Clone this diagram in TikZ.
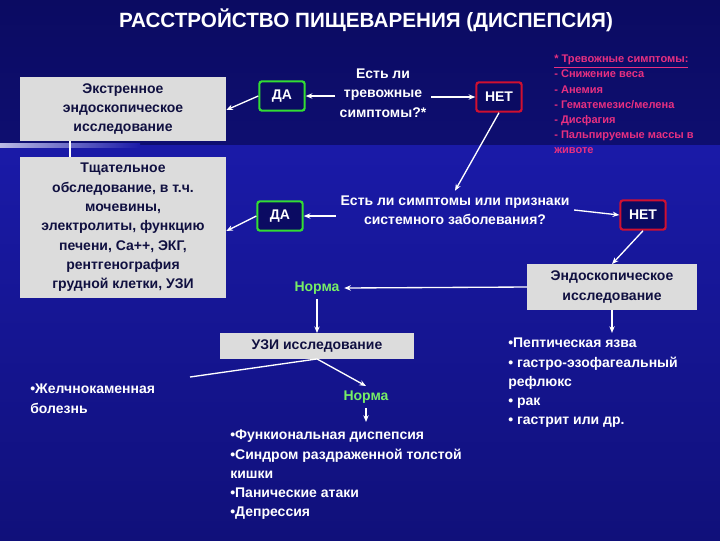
\documentclass[tikz,border=0pt]{standalone}
\usepackage{fontspec}
\setmainfont{Liberation Sans}
\usetikzlibrary{arrows.meta}
\definecolor{bgtop}{HTML}{0B0B62}
\definecolor{bgmid}{HTML}{1A1AA8}
\definecolor{bgbot}{HTML}{10107A}
\definecolor{boxgray}{HTML}{DCDCDC}
\definecolor{navytxt}{HTML}{101040}
\definecolor{grn}{HTML}{33DD33}
\definecolor{rd}{HTML}{D01030}
\definecolor{pink}{HTML}{E83080}
\definecolor{normg}{HTML}{77EE66}
\begin{document}
\begin{tikzpicture}[x=0.75pt,y=-0.75pt,
  every node/.style={font=\bfseries\fontsize{10.5}{14.5}\selectfont},
  gbox/.style={fill=boxgray,text=navytxt,align=center,inner sep=2pt},
  yes/.style={draw=grn,line width=1.6pt,rounded corners=2pt,fill=bgtop,text=white,minimum width=34pt,minimum height=22pt},
  no/.style={draw=rd,line width=1.6pt,rounded corners=2pt,fill=bgtop,text=white,minimum width=34pt,minimum height=22pt},
  wt/.style={text=white,align=center},
  arr/.style={white,line width=1pt,-{Stealth[length=5pt,width=4pt]}},
  ln/.style={white,line width=1pt}]
\useasboundingbox (0,0) rectangle (720,540);
\shade[top color=bgtop,bottom color=bgtop!80!bgmid] (0,0) rectangle (720,145);
\shade[top color=bgmid,bottom color=bgbot] (0,145) rectangle (720,540);
\shade[left color=white!70!bgmid,right color=bgmid] (0,143) rectangle (140,147);

\node[text=white,font=\bfseries\fontsize{15.5}{18}\selectfont] (title) at (366,20) {РАССТРОЙСТВО ПИЩЕВАРЕНИЯ (ДИСПЕПСИЯ)};

\node[gbox,minimum width=154.5pt,minimum height=48pt] (b1) at (123,109) {Экстренное\\эндоскопическое\\исследование};
\node[gbox,minimum width=154.5pt,minimum height=106pt] (b2) at (123,227.5) {Тщательное\\обследование, в т.ч.\\мочевины,\\электролиты, функцию\\печени, Са++, ЭКГ,\\рентгенография\\грудной клетки, УЗИ};
\draw[ln] (70,141) -- (70,157);

\node[yes] (da1) at (282,96) {ДА};
\node[wt] (q1) at (383,93) {Есть ли\\тревожные\\симптомы?*};
\node[no] (net1) at (499,97) {НЕТ};
\node[text=pink,align=left,anchor=north west,inner sep=0pt,font=\bfseries\fontsize{8.3}{11.3}\selectfont] (red) at (554,55) {\underline{* Тревожные симптомы:}\\- Снижение веса\\- Анемия\\- Гематемезис/мелена\\- Дисфагия\\- Пальпируемые массы в\\животе};

\node[wt] (q2) at (455,210) {Есть ли симптомы или признаки\\системного заболевания?};
\node[yes] (da2) at (280,216) {ДА};
\node[no] (net2) at (643,215) {НЕТ};
\node[gbox,minimum width=127pt,minimum height=34pt] (endo) at (612,287) {Эндоскопическое\\исследование};
\node[text=normg] (n1) at (317,288) {Норма};
\node[gbox,minimum width=146pt,minimum height=19pt] (uzi) at (317,346) {УЗИ исследование};
\coordinate (gl) at (190,377);
\node[text=white,align=left,anchor=north west,inner sep=0pt] (gall) at (30,384) {•Желчнокаменная\\болезнь};
\node[text=normg] (n2) at (366,397) {Норма};
\node[text=white,align=left,anchor=north west,inner sep=0pt,font=\bfseries\fontsize{10.5}{14.4}\selectfont] (list1) at (230,430) {•Функиональная диспепсия\\•Синдром раздраженной толстой\\кишки\\•Панические атаки\\•Депрессия};
\node[text=white,align=left,anchor=north west,inner sep=0pt,font=\bfseries\fontsize{10.5}{14.4}\selectfont] (list2) at (508,338) {•Пептическая язва\\• гастро-эзофагеальный\\рефлюкс\\• рак\\• гастрит или др.};

\draw[arr] (q1.west |- da1) -- (da1);
\draw[arr] (da1.west) -- (b1.east |- 0,110);
\draw[arr] (q1.east |- net1) -- (net1);
\draw[arr] (net1.south) -- (q2.north);
\draw[arr] (q2.west |- da2) -- (da2);
\draw[arr] (da2.west) -- (b2.east |- 0,231);
\draw[arr] (q2.east) -- (net2.west);
\draw[arr] (net2.south) -- (endo.north);
\draw[arr] (endo.west) -- (n1.east);
\draw[arr] (n1.south) -- (uzi.north);
\draw[ln] (uzi.south) -- (gl);
\draw[arr] (uzi.south) -- (n2.north);
\draw[arr] (n2.south) -- ++(0,14);
\draw[arr] (endo.south) -- ++(0,23);
\end{tikzpicture}
\end{document}
